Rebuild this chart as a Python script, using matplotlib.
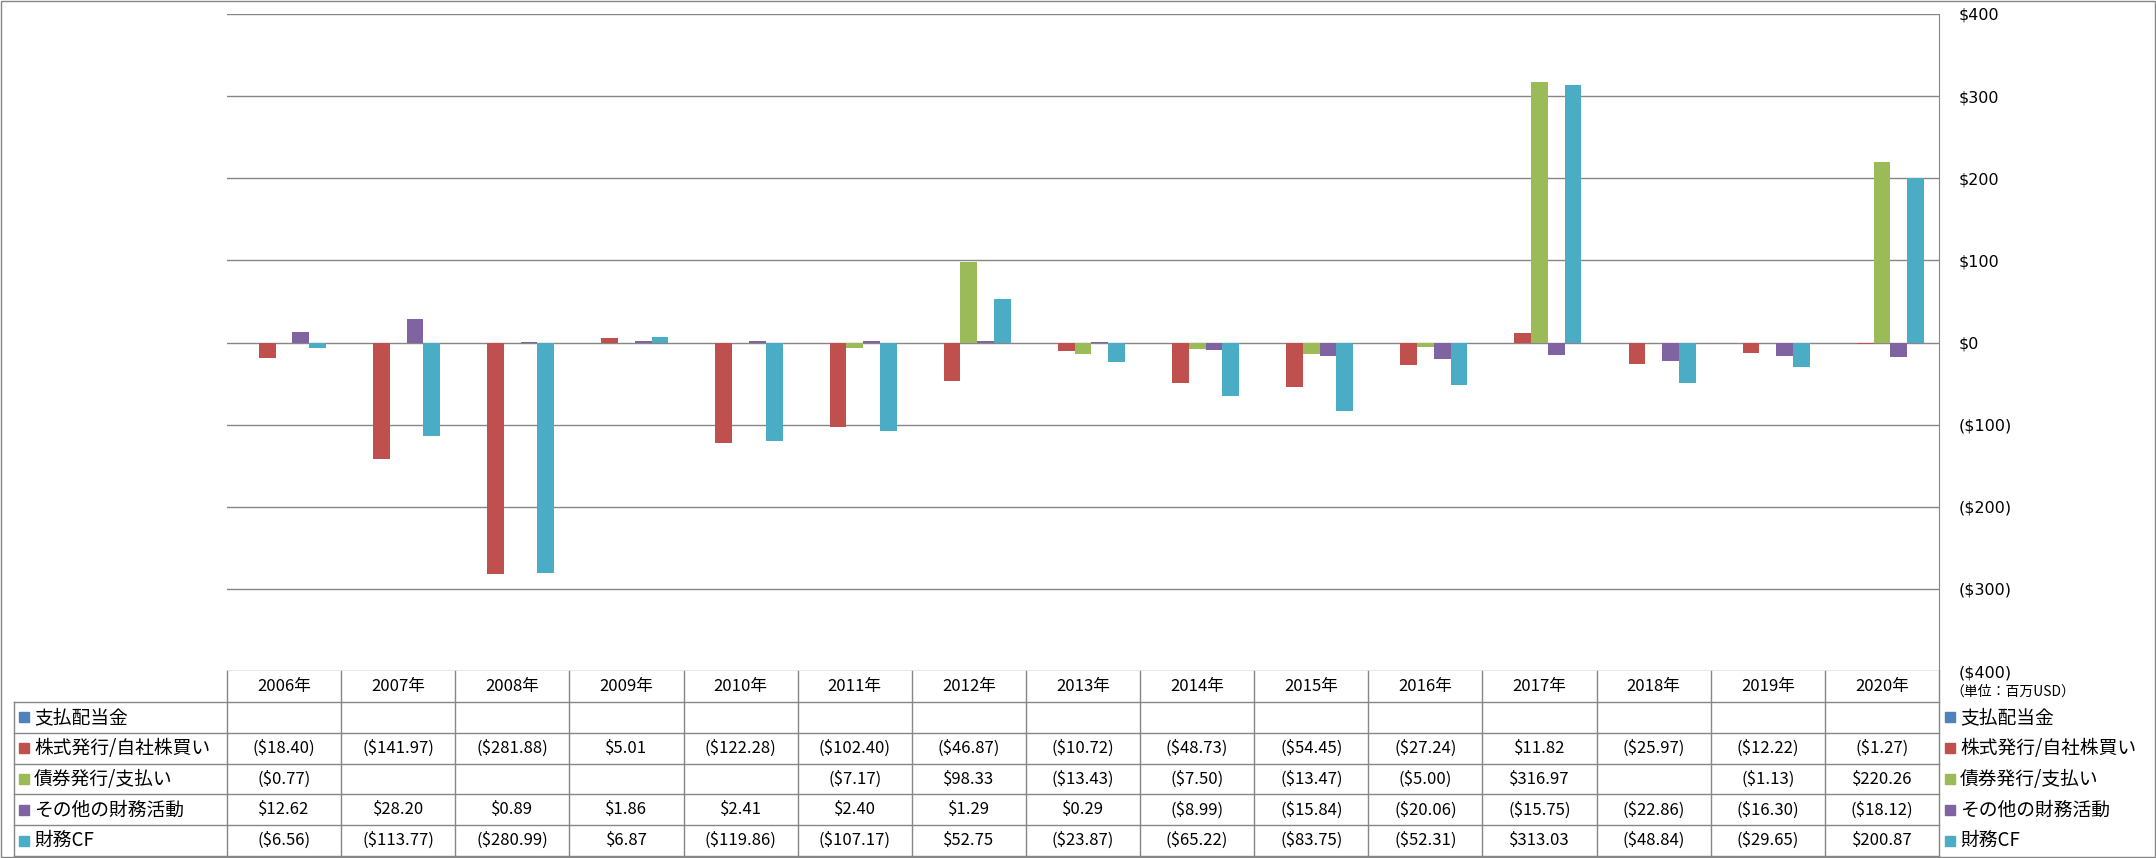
import numpy as np
import matplotlib
matplotlib.use("Agg")
import matplotlib.pyplot as plt
from matplotlib.lines import Line2D
from matplotlib.patches import Rectangle

plt.rcParams['font.family'] = ['Noto Sans CJK JP', 'DejaVu Sans']

years = ["2006年", "2007年", "2008年", "2009年", "2010年", "2011年", "2012年", "2013年",
         "2014年", "2015年", "2016年", "2017年", "2018年", "2019年", "2020年"]
series_names = ["支払配当金", "株式発行/自社株買い", "債券発行/支払い", "その他の財務活動", "財務CF"]
colors = ["#4F81BD", "#C0504D", "#9BBB59", "#8064A2", "#4BACC6"]

nan = np.nan
dividends = [nan] * 15
stock = [-18.40, -141.97, -281.88, 5.01, -122.28, -102.40, -46.87, -10.72, -48.73, -54.45,
         -27.24, 11.82, -25.97, -12.22, -1.27]
bonds = [-0.77, nan, nan, nan, nan, -7.17, 98.33, -13.43, -7.50, -13.47, -5.00, 316.97, nan,
         -1.13, 220.26]
other = [12.62, 28.20, 0.89, 1.86, 2.41, 2.40, 1.29, 0.29, -8.99, -15.84, -20.06, -15.75,
         -22.86, -16.30, -18.12]
fin_cf = [-6.56, -113.77, -280.99, 6.87, -119.86, -107.17, 52.75, -23.87, -65.22, -83.75,
          -52.31, 313.03, -48.84, -29.65, 200.87]
series = [dividends, stock, bonds, other, fin_cf]
yticks = [-400, -300, -200, -100, 0, 100, 200, 300, 400]
unit_label = "（単位：百万USD）"

W, H = 2156, 858
grid_c = "#868686"


def money(v, dec=2):
    if v is None or np.isnan(v):
        return ""
    s = f"${abs(v):,.{dec}f}"
    return f"({s})" if v < 0 else s


fig = plt.figure(figsize=(W / 100, H / 100), dpi=100)

# pixel layout
px_left, px_right = 227, 1939
px_top, px_bot = 14, 671
lab_left = 14
row_h = 30.8
hdr_bot = 702

ax = fig.add_axes([px_left / W, 1 - px_bot / H, (px_right - px_left) / W, (px_bot - px_top) / H])
n = len(years)
x = np.arange(n)
bw = 0.147
for i, (vals, c) in enumerate(zip(series, colors)):
    ax.bar(x + (i - 2) * bw, np.array(vals, dtype=float), bw, color=c, zorder=3)

ax.set_xlim(-0.5, n - 0.5)
ax.set_ylim(-400, 400)
ax.set_yticks(yticks)
ax.set_yticklabels([money(t, 0) for t in yticks], family="DejaVu Sans", fontsize=11.5)
for lbl, t in zip(ax.get_yticklabels(), yticks):
    lbl.set_color("#FF0000" if t < 0 else "black")
ax.yaxis.tick_right()
ax.tick_params(axis="y", length=0, pad=14)
ax.set_xticks([])
ax.grid(axis="y", color=grid_c, linewidth=1, zorder=0)
for s in ["top", "left", "bottom"]:
    ax.spines[s].set_visible(False)
ax.spines["right"].set_color(grid_c)

# overlay in pixel coordinates for the data table
ov = fig.add_axes([0, 0, 1, 1])
ov.set_xlim(0, W)
ov.set_ylim(H, 0)
ov.axis("off")

col_w = (px_right - px_left) / n
lk = dict(color=grid_c, linewidth=1)
# header row verticals
for j in range(n + 1):
    xx = px_left + j * col_w
    ov.add_line(Line2D([xx, xx], [px_bot, H - 1], **lk))
ov.add_line(Line2D([lab_left, lab_left], [hdr_bot, H - 1], **lk))
ov.add_line(Line2D([lab_left, px_right], [hdr_bot, hdr_bot], **lk))
for r in range(1, 6):
    yy = hdr_bot + r * row_h
    ov.add_line(Line2D([lab_left, px_right], [yy, yy], **lk))

for j, yr in enumerate(years):
    ov.text(px_left + (j + 0.5) * col_w, (px_bot + hdr_bot) / 2, yr, ha="center", va="center",
            fontsize=12)

for r, (name, vals, c) in enumerate(zip(series_names, series, colors)):
    yc = hdr_bot + (r + 0.5) * row_h
    ov.add_patch(Rectangle((lab_left + 5, yc - 5), 10, 10, color=c))
    ov.text(lab_left + 20, yc, name, ha="left", va="center", fontsize=13.5)
    for j, v in enumerate(vals):
        ov.text(px_left + (j + 0.5) * col_w, yc, money(v), ha="center", va="center",
                fontsize=12)
    # legend on the right
    ov.add_patch(Rectangle((1945, yc - 5), 10, 10, color=c))
    ov.text(1960, yc, name, ha="left", va="center", fontsize=13.5)

ov.text(1950, 692, unit_label, ha="left", va="center", fontsize=10)

# chart border
ov.add_patch(Rectangle((1, 1), W - 2, H - 2, fill=False, edgecolor=grid_c, linewidth=1))

fig.savefig("out.png", dpi=100)
